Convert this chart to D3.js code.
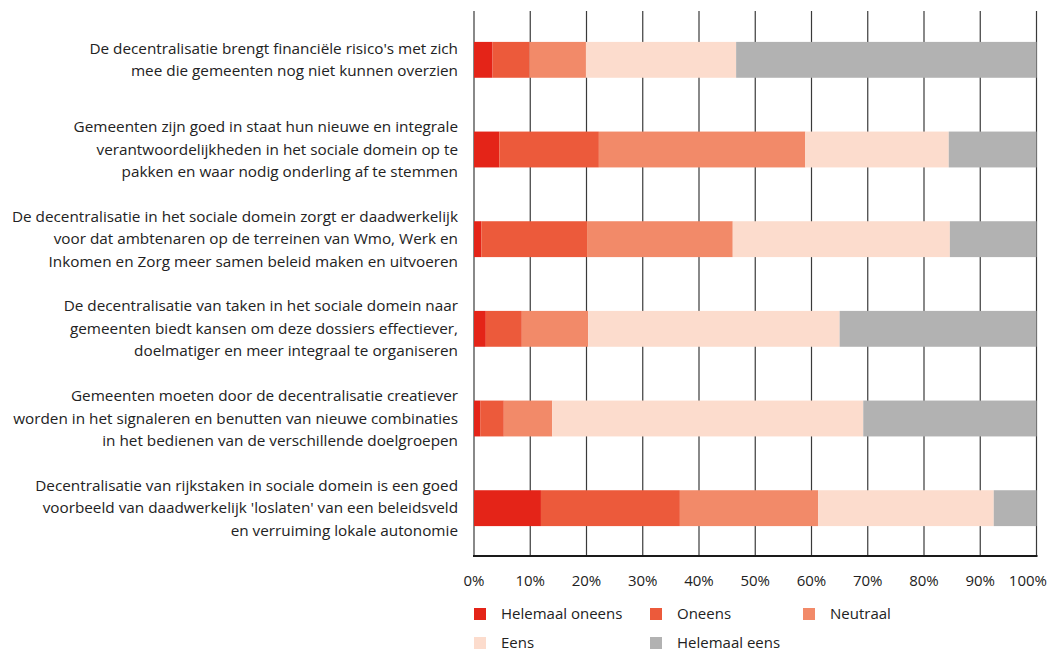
<!DOCTYPE html>
<html><head><meta charset="utf-8">
<script src="https://cdn.jsdelivr.net/npm/d3@7"></script>
<style>html,body{margin:0;padding:0;background:#fff;}svg{display:block;font-family:"Open Sans","Noto Sans",sans-serif;}</style>
</head><body>
<svg id="chart" width="1049" height="652"></svg>
<script>
const categories = [
  ["De decentralisatie brengt financiële risico's met zich", "mee die gemeenten nog niet kunnen overzien"],
  ["Gemeenten zijn goed in staat hun nieuwe en integrale", "verantwoordelijkheden in het sociale domein op te", "pakken en waar nodig onderling af te stemmen"],
  ["De decentralisatie in het sociale domein zorgt er daadwerkelijk", "voor dat ambtenaren op de terreinen van Wmo, Werk en", "Inkomen en Zorg meer samen beleid maken en uitvoeren"],
  ["De decentralisatie van taken in het sociale domein naar", "gemeenten biedt kansen om deze dossiers effectiever,", "doelmatiger en meer integraal te organiseren"],
  ["Gemeenten moeten door de decentralisatie creatiever", "worden in het signaleren en benutten van nieuwe combinaties", "in het bedienen van de verschillende doelgroepen"],
  ["Decentralisatie van rijkstaken in sociale domein is een goed", "voorbeeld van daadwerkelijk 'loslaten' van een beleidsveld", "en verruiming lokale autonomie"]
];
const seriesNames = ["Helemaal oneens", "Oneens", "Neutraal", "Eens", "Helemaal eens"];
const helemaalOneens = [3.3, 4.5, 1.3, 2.1, 1.1, 11.9];
const oneens         = [6.6, 17.7, 18.8, 6.4, 4.2, 24.7];
const neutraal       = [10.0, 36.7, 25.9, 11.8, 8.6, 24.6];
const eens           = [26.7, 25.5, 38.6, 44.7, 55.3, 31.2];
const helemaalEens   = [53.4, 15.6, 15.4, 35.0, 30.8, 7.6];
const tickLabels = ["0%","10%","20%","30%","40%","50%","60%","70%","80%","90%","100%"];
const colors = ["#e42418", "#ec5a3b", "#f28a69", "#fcdccd", "#b2b2b2"];

const svg = d3.select("#chart");
const x = d3.scaleLinear().domain([0, 100]).range([474, 1036.5]);
const y = d3.scaleBand().domain(d3.range(categories.length)).range([15, 553]).paddingInner(0.6).paddingOuter(0.3);

const seriesArr = [helemaalOneens, oneens, neutraal, eens, helemaalEens];
const rows = categories.map((c, i) => {
  const r = {i};
  seriesNames.forEach((s, k) => r[s] = seriesArr[k][i]);
  return r;
});
const stack = d3.stack().keys(seriesNames)(rows);

// gridlines
const ticks = d3.range(0, 101, 10);
svg.append("g").selectAll("line").data(ticks).join("line")
  .attr("x1", d => x(d)).attr("x2", d => x(d))
  .attr("y1", 11).attr("y2", 556)
  .attr("stroke", "#3a3a3a").attr("stroke-width", 1.2);

// bars
svg.append("g").selectAll("g").data(stack).join("g")
  .attr("fill", (d, k) => colors[k])
  .selectAll("rect").data(d => d).join("rect")
  .attr("x", d => x(d[0])).attr("width", d => x(d[1]) - x(d[0]))
  .attr("y", d => y(d.data.i)).attr("height", y.bandwidth());

// x axis baseline
svg.append("line").attr("x1", x(0) - 1).attr("x2", x(100) + 1).attr("y1", 556).attr("y2", 556)
  .attr("stroke", "#1a1a1a").attr("stroke-width", 2);

// tick labels
svg.append("g").selectAll("text").data(ticks).join("text")
  .attr("x", (d, i) => i === ticks.length - 1 ? 1047 : x(d)).attr("y", 586)
  .attr("text-anchor", (d, i) => i === ticks.length - 1 ? "end" : "middle")
  .attr("font-size", 15).attr("fill", "#222")
  .text((d, i) => tickLabels[i]);

// category labels
const lh = 22.5;
const lab = svg.append("g").selectAll("text").data(categories).join("text")
  .attr("text-anchor", "end").attr("font-size", 15.3).attr("fill", "#222");
lab.each(function(lines, i) {
  const cy = y(i) + y.bandwidth() / 2;
  const n = lines.length;
  d3.select(this).selectAll("tspan").data(lines).join("tspan")
    .attr("x", 458)
    .attr("y", (l, j) => cy + (j - (n - 1) / 2) * lh + 5)
    .text(l => l);
});

// legend
const legPos = [[474, 608], [650, 608], [803, 608], [474, 637], [650, 637]];
const leg = svg.append("g").selectAll("g").data(seriesNames).join("g")
  .attr("transform", (d, k) => `translate(${legPos[k][0]},${legPos[k][1]})`);
leg.append("rect").attr("width", 12).attr("height", 12).attr("fill", (d, k) => colors[k]);
leg.append("text").attr("x", 27).attr("y", 11).attr("font-size", 15).attr("fill", "#222").text(d => d);
</script>
</body></html>
